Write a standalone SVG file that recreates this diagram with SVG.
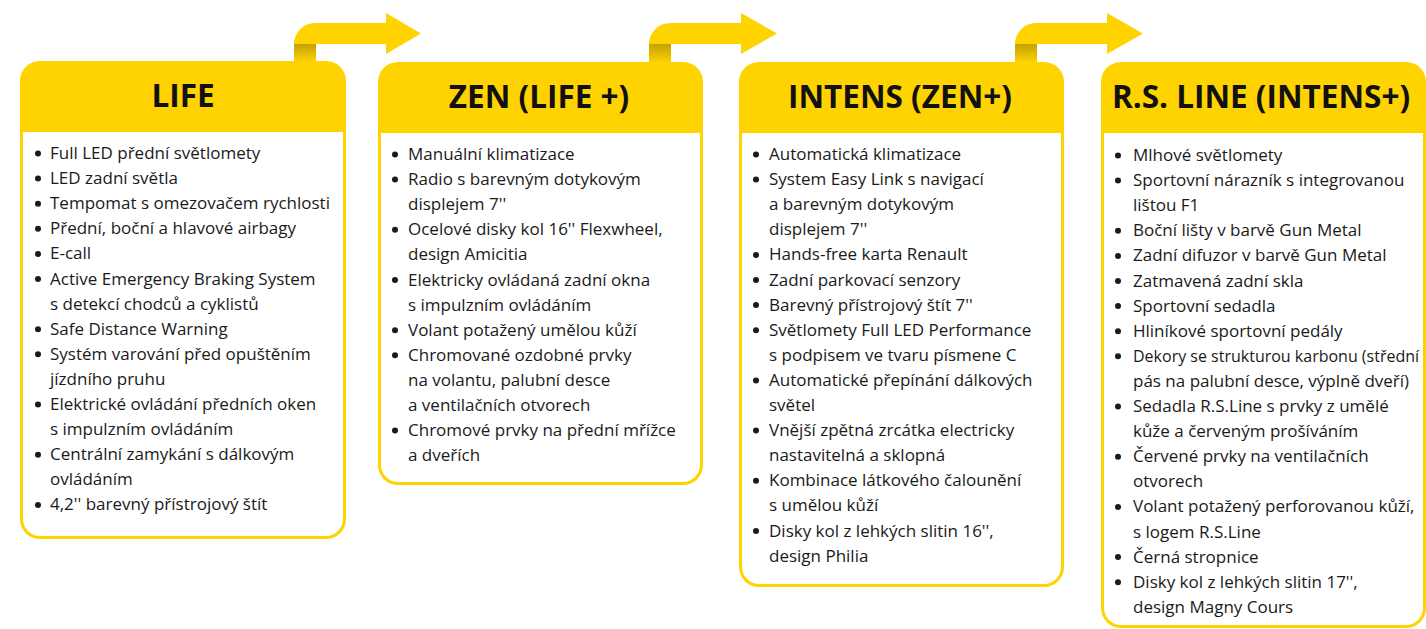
<svg xmlns="http://www.w3.org/2000/svg" width="1426" height="629" viewBox="0 0 1426 629">
<defs>
<style>
.card{fill:#FFD300}
.inner{fill:#FFFFFF}
.hd{font-family:"Open Sans",Lato,"DejaVu Sans",sans-serif;font-weight:700;font-size:31.5px;fill:#111111;text-anchor:middle}
.t{font-family:"Open Sans",Lato,"DejaVu Sans",sans-serif;font-size:17px;fill:#1a1a1a}
.ts{font-size:16px}
.b{fill:#1a1a1a}
.arrow{fill:#FFD300}
</style>
<linearGradient id="shade" x1="0" y1="0" x2="0" y2="1">
<stop offset="0" stop-color="#C4A200"/>
<stop offset="1" stop-color="#FFD300"/>
</linearGradient>
</defs>
<rect width="1426" height="629" fill="#FFFFFF"/>

<g id="connectors">
<path class="arrow" d="M294,62 V44 A21,21 0 0 1 315,23 H386 V13 L421,33.5 L386,54 V44 H316 V62 Z"/>
<rect x="294" y="44" width="22" height="18" fill="url(#shade)"/>
<path class="arrow" d="M649,63 V44 A21,21 0 0 1 670,23 H741 V13 L777,33.5 L741,54 V44 H671 V63 Z"/>
<rect x="649" y="44" width="22" height="19" fill="url(#shade)"/>
<path class="arrow" d="M1015,63 V44 A21,21 0 0 1 1036,23 H1107 V13 L1143,33.5 L1107,54 V44 H1037 V63 Z"/>
<rect x="1015" y="44" width="22" height="19" fill="url(#shade)"/>
</g>

<g id="node-life">
<rect class="card" x="20" y="61" width="326" height="478" rx="20"/>
<path class="inner" d="M23,132 H343 V519 A17,17 0 0 1 326,536 H40 A17,17 0 0 1 23,519 Z"/>
<text class="hd" x="183" y="107">LIFE</text>
<g class="b">
<circle cx="38" cy="153.5" r="3"/><circle cx="38" cy="178.6" r="3"/><circle cx="38" cy="203.7" r="3"/><circle cx="38" cy="228.8" r="3"/><circle cx="38" cy="253.9" r="3"/><circle cx="38" cy="279" r="3"/><circle cx="38" cy="329.2" r="3"/><circle cx="38" cy="354.3" r="3"/><circle cx="38" cy="404.5" r="3"/><circle cx="38" cy="454.7" r="3"/><circle cx="38" cy="504.9" r="3"/>
</g>
<text class="t" x="50" y="159">Full LED přední světlomety</text>
<text class="t" x="50" y="184.1">LED zadní světla</text>
<text class="t" x="50" y="209.2">Tempomat s omezovačem rychlosti</text>
<text class="t" x="50" y="234.3">Přední, boční a hlavové airbagy</text>
<text class="t" x="50" y="259.4">E-call</text>
<text class="t" x="50" y="284.5">Active Emergency Braking System</text>
<text class="t" x="50" y="309.6">s detekcí chodců a cyklistů</text>
<text class="t" x="50" y="334.7">Safe Distance Warning</text>
<text class="t" x="50" y="359.8">Systém varování před opuštěním</text>
<text class="t" x="50" y="384.9">jízdního pruhu</text>
<text class="t" x="50" y="410">Elektrické ovládání předních oken</text>
<text class="t" x="50" y="435.1">s impulzním ovládáním</text>
<text class="t" x="50" y="460.2">Centrální zamykání s dálkovým</text>
<text class="t" x="50" y="485.3">ovládáním</text>
<text class="t" x="50" y="510.4">4,2'' barevný přístrojový štít</text>
</g>

<g id="node-zen">
<rect class="card" x="378" y="62" width="325" height="423" rx="20"/>
<path class="inner" d="M381,133 H700 V465 A17,17 0 0 1 683,482 H398 A17,17 0 0 1 381,465 Z"/>
<text class="hd" x="539" y="108">ZEN (LIFE +)</text>
<g class="b">
<circle cx="395" cy="154.5" r="3"/><circle cx="395" cy="179.6" r="3"/><circle cx="395" cy="229.8" r="3"/><circle cx="395" cy="280" r="3"/><circle cx="395" cy="330.2" r="3"/><circle cx="395" cy="355.3" r="3"/><circle cx="395" cy="430.6" r="3"/>
</g>
<text class="t" x="408" y="160">Manuální klimatizace</text>
<text class="t" x="408" y="185.1">Radio s barevným dotykovým</text>
<text class="t" x="408" y="210.2">displejem 7''</text>
<text class="t" x="408" y="235.3">Ocelové disky kol 16'' Flexwheel,</text>
<text class="t" x="408" y="260.4">design Amicitia</text>
<text class="t" x="408" y="285.5">Elektricky ovládaná zadní okna</text>
<text class="t" x="408" y="310.6">s impulzním ovládáním</text>
<text class="t" x="408" y="335.7">Volant potažený umělou kůží</text>
<text class="t" x="408" y="360.8">Chromované ozdobné prvky</text>
<text class="t" x="408" y="385.9">na volantu, palubní desce</text>
<text class="t" x="408" y="411">a ventilačních otvorech</text>
<text class="t" x="408" y="436.1">Chromové prvky na přední mřížce</text>
<text class="t" x="408" y="461.2">a dveřích</text>
</g>

<g id="node-intens">
<rect class="card" x="739" y="62" width="325" height="525" rx="20"/>
<path class="inner" d="M742,133 H1061 V567 A17,17 0 0 1 1044,584 H759 A17,17 0 0 1 742,567 Z"/>
<text class="hd" x="900" y="108">INTENS (ZEN+)</text>
<g class="b">
<circle cx="756" cy="154.5" r="3"/><circle cx="756" cy="179.6" r="3"/><circle cx="756" cy="254.9" r="3"/><circle cx="756" cy="280" r="3"/><circle cx="756" cy="305.1" r="3"/><circle cx="756" cy="330.2" r="3"/><circle cx="756" cy="380.4" r="3"/><circle cx="756" cy="430.6" r="3"/><circle cx="756" cy="480.8" r="3"/><circle cx="756" cy="531" r="3"/>
</g>
<text class="t" x="769" y="160">Automatická klimatizace</text>
<text class="t" x="769" y="185.1">System Easy Link s navigací</text>
<text class="t" x="769" y="210.2">a barevným dotykovým</text>
<text class="t" x="769" y="235.3">displejem 7''</text>
<text class="t" x="769" y="260.4">Hands-free karta Renault</text>
<text class="t" x="769" y="285.5">Zadní parkovací senzory</text>
<text class="t" x="769" y="310.6">Barevný přístrojový štít 7''</text>
<text class="t" x="769" y="335.7">Světlomety Full LED Performance</text>
<text class="t" x="769" y="360.8">s podpisem ve tvaru písmene C</text>
<text class="t" x="769" y="385.9">Automatické přepínání dálkových</text>
<text class="t" x="769" y="411">světel</text>
<text class="t" x="769" y="436.1">Vnější zpětná zrcátka electricky</text>
<text class="t" x="769" y="461.2">nastavitelná a sklopná</text>
<text class="t" x="769" y="486.3">Kombinace látkového čalounění</text>
<text class="t" x="769" y="511.4">s umělou kůží</text>
<text class="t" x="769" y="536.5">Disky kol z lehkých slitin 16'',</text>
<text class="t" x="769" y="561.6">design Philia</text>
</g>

<g id="node-rsline">
<rect class="card" x="1101" y="62" width="325" height="566" rx="20"/>
<path class="inner" d="M1104,133 H1423 V608 A17,17 0 0 1 1406,625 H1121 A17,17 0 0 1 1104,608 Z"/>
<text class="hd" x="1261" y="108">R.S. LINE (INTENS+)</text>
<g class="b">
<circle cx="1118" cy="155.5" r="3"/><circle cx="1118" cy="180.6" r="3"/><circle cx="1118" cy="230.8" r="3"/><circle cx="1118" cy="255.9" r="3"/><circle cx="1118" cy="281" r="3"/><circle cx="1118" cy="306.1" r="3"/><circle cx="1118" cy="331.2" r="3"/><circle cx="1118" cy="356.3" r="3"/><circle cx="1118" cy="406.5" r="3"/><circle cx="1118" cy="456.7" r="3"/><circle cx="1118" cy="506.9" r="3"/><circle cx="1118" cy="557.1" r="3"/><circle cx="1118" cy="582.2" r="3"/>
</g>
<text class="t" x="1133" y="161">Mlhové světlomety</text>
<text class="t" x="1133" y="186.1">Sportovní nárazník s integrovanou</text>
<text class="t" x="1133" y="211.2">lištou F1</text>
<text class="t" x="1133" y="236.3">Boční lišty v barvě Gun Metal</text>
<text class="t" x="1133" y="261.4">Zadní difuzor v barvě Gun Metal</text>
<text class="t" x="1133" y="286.5">Zatmavená zadní skla</text>
<text class="t" x="1133" y="311.6">Sportovní sedadla</text>
<text class="t" x="1133" y="336.7">Hliníkové sportovní pedály</text>
<text class="t ts" x="1133" y="361.8">Dekory se strukturou karbonu (střední</text>
<text class="t" x="1133" y="386.9">pás na palubní desce, výplně dveří)</text>
<text class="t" x="1133" y="412">Sedadla R.S.Line s prvky z umělé</text>
<text class="t" x="1133" y="437.1">kůže a červeným prošíváním</text>
<text class="t" x="1133" y="462.2">Červené prvky na ventilačních</text>
<text class="t" x="1133" y="487.3">otvorech</text>
<text class="t" x="1133" y="512.4">Volant potažený perforovanou kůží,</text>
<text class="t" x="1133" y="537.5">s logem R.S.Line</text>
<text class="t" x="1133" y="562.6">Černá stropnice</text>
<text class="t" x="1133" y="587.7">Disky kol z lehkých slitin 17'',</text>
<text class="t" x="1133" y="612.8">design Magny Cours</text>
</g>
</svg>
